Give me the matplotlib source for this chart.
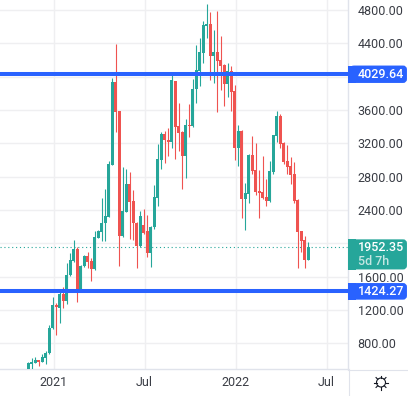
#!/usr/bin/env python
# coding: utf-8

# Weekly candlestick chart with two levels, drawn in the TradingView look

import matplotlib
matplotlib.use("Agg")
import matplotlib.pyplot as plt
from matplotlib.patches import Circle, FancyBboxPatch, Rectangle
import numpy as np

plt.rcParams['font.family'] = ['Roboto', 'DejaVu Sans']

# candles, one per week
open_p = [450, 552, 568, 596, 580, 628, 680, 980, 1256, 1228,
          1392, 1312, 1616, 1792, 1932, 1420, 1728, 1848, 1792, 1688,
          2068, 2140, 2240, 2320, 2944, 3936, 3588, 2088, 2380, 2712,
          2508, 2244, 1968, 2220, 2148, 1884, 2196, 2544, 3000, 3312,
          3240, 3216, 3948, 3408, 3336, 3048, 3420, 3408, 3852, 4068,
          4284, 4608, 4632, 4248, 4296, 4200, 4140, 3912, 4068, 3828,
          3144, 3348, 2532, 2592, 3060, 2880, 2628, 2616, 2556, 2508,
          2856, 3288, 3528, 3204, 2988, 2928, 2832, 2520, 2148, 2040,
          1800]
close_p = [560, 572, 600, 580, 632, 680, 980, 1256, 1232, 1392,
           1312, 1616, 1800, 1932, 1420, 1728, 1848, 1780, 1688, 2072,
           2148, 2240, 2328, 2956, 3936, 3580, 2088, 2388, 2712, 2496,
           2244, 1968, 2328, 2124, 1884, 2196, 2556, 3012, 3312, 3240,
           3216, 3960, 3396, 3324, 3048, 3420, 3408, 3852, 4080, 4296,
           4620, 4632, 4248, 4296, 4188, 4128, 3912, 4068, 3816, 3144,
           3348, 2536, 2604, 3060, 2868, 2616, 2604, 2544, 2508, 2868,
           3300, 3528, 3192, 2976, 2916, 2820, 2508, 2136, 2028, 1800,
           1952.35]
high_p = [572, 620, 632, 596, 672, 712, 1020, 1352, 1280, 1448,
          1472, 1760, 1880, 2040, 1952, 1740, 1860, 1900, 1820, 2152,
          2160, 2544, 2652, 2988, 3984, 4392, 3588, 2916, 2892, 2856,
          2640, 2256, 2388, 2412, 2340, 2208, 2700, 3192, 3336, 3348,
          3384, 4032, 3948, 3684, 3348, 3492, 3672, 3972, 4380, 4464,
          4668, 4872, 4776, 4560, 4788, 4488, 4152, 4164, 4128, 3900,
          3420, 3360, 2724, 3072, 3288, 3204, 2880, 3048, 2772, 2988,
          3300, 3588, 3552, 3216, 3180, 3036, 2976, 2532, 2148, 2088,
          2016]
low_p = [440, 480, 560, 528, 572, 552, 672, 968, 900, 1048,
         1220, 1272, 1608, 1780, 1300, 1412, 1720, 1700, 1552, 1680,
         2060, 2030, 2032, 2316, 2940, 3336, 1728, 2076, 2376, 2052,
         2040, 1704, 1956, 2112, 1836, 1716, 2172, 2448, 2892, 2964,
         3048, 3144, 3012, 3108, 2652, 2784, 3276, 3402, 3684, 3888,
         4164, 4464, 3960, 3924, 3576, 3840, 3648, 3756, 3588, 3000,
         2928, 2304, 2160, 2484, 2832, 2580, 2304, 2532, 2448, 2496,
         2832, 3216, 3144, 2952, 2832, 2712, 2484, 1704, 1896, 1704,
         1800]

level_high = 4029.64
level_low = 1424.27
last_price = 1952.35

grid_prices = [4800, 4400, 4000, 3600, 3200, 2800, 2400, 2000, 1600, 1200, 800]
hidden_prices = [4000, 2000]  # their labels sit under the price boxes
date_weeks = [7.2, 33.2, 59.2, 85.2]
date_labels = ['2021', 'Jul', '2022', 'Jul']

teal = '#26a69a'
red = '#ef5350'
blue = '#2962ff'
grid_col = '#efeff1'
axis_col = '#e0e3eb'
text_col = '#3a3d45'

W, H = 408, 396
fig = plt.figure(figsize=(W / 100, H / 100), dpi=100)
ax = fig.add_axes([0, 27 / H, 348 / W, 369 / H])

weeks = np.arange(len(open_p))
o = np.array(open_p, dtype=float)
c = np.array(close_p, dtype=float)
colors = [teal if c_i >= o_i else red for o_i, c_i in zip(o, c)]

ax.vlines(weeks, low_p, high_p, colors=colors, linewidth=0.8, zorder=3)
ax.bar(weeks, np.maximum(np.abs(c - o), 12), bottom=np.minimum(o, c),
       width=0.94, color=colors, linewidth=0, zorder=3)

ax.axhline(level_high, color=blue, linewidth=2.9, zorder=4)
ax.axhline(level_low, color=blue, linewidth=2.9, zorder=4)
ax.axhline(last_price, color=teal, linewidth=0.8, linestyle=(0, (1, 2.5)), zorder=2)

ax.set_xlim(-8.09, 91.34)
ax.set_ylim(492, 4920)
ax.set_xticks(date_weeks)
ax.set_xticklabels(date_labels)
ax.set_yticks(grid_prices)
ax.set_yticklabels(['' if p in hidden_prices else '%.2f' % p for p in grid_prices])
ax.yaxis.tick_right()
ax.tick_params(axis='both', length=0, labelsize=9, labelcolor=text_col)
ax.tick_params(axis='y', pad=7.0)
ax.tick_params(axis='x', pad=5.2)
ax.grid(True, color=grid_col, linewidth=1.0, zorder=0)
ax.set_axisbelow(True)
for side in ['top', 'left']:
    ax.spines[side].set_visible(False)
ax.spines['right'].set_color(axis_col)
ax.spines['bottom'].set_color(axis_col)
ax.spines['right'].set_linewidth(1.0)
ax.spines['bottom'].set_linewidth(1.0)

# overlay in pixels for the price boxes and the settings icon
ov = fig.add_axes([0, 0, 1, 1])
ov.set_xlim(0, W)
ov.set_ylim(H, 0)
ov.axis('off')
ov.patch.set_alpha(0)

ov.plot([348, 408], [369.5, 369.5], color=axis_col, linewidth=0.8)
ov.plot([348.5, 348.5], [369, 396], color=axis_col, linewidth=0.8)


def price_box(y0, y1, col):
    ov.add_patch(FancyBboxPatch((352, y0 + 2), 53, y1 - y0 - 4,
                                boxstyle='round,pad=0,rounding_size=2',
                                mutation_aspect=1, facecolor=col, edgecolor=col,
                                linewidth=2.8))
    ov.add_patch(Rectangle((348, y0), 8, y1 - y0, facecolor=col, linewidth=0))


price_box(65.5, 83, blue)
price_box(283, 299.7, blue)
price_box(239.3, 269.5, teal)

ov.text(358, 74.5, '%.2f' % level_high, color='white', fontsize=9,
        fontweight='medium', va='center', ha='left')
ov.text(358, 291.5, '%.2f' % level_low, color='white', fontsize=9,
        fontweight='medium', va='center', ha='left')
ov.text(358, 247.5, '%.2f' % last_price, color='white', fontsize=9,
        fontweight='medium', va='center', ha='left')
ov.text(358, 261.5, '5d 7h', color='#c4e6e2', fontsize=9,
        fontweight='medium', va='center', ha='left')

# settings gear
ov.add_patch(Circle((381, 382.5), 4.5, facecolor='white', edgecolor='#131722', linewidth=0.8))
for ang in np.arange(0, 360, 45):
    dx, dy = np.cos(np.radians(ang)), np.sin(np.radians(ang))
    ov.plot([381 + 4.5 * dx, 381 + 7 * dx], [382.5 + 4.5 * dy, 382.5 + 7 * dy],
            color='#131722', linewidth=0.8)

fig.savefig('out.png', dpi=100)
